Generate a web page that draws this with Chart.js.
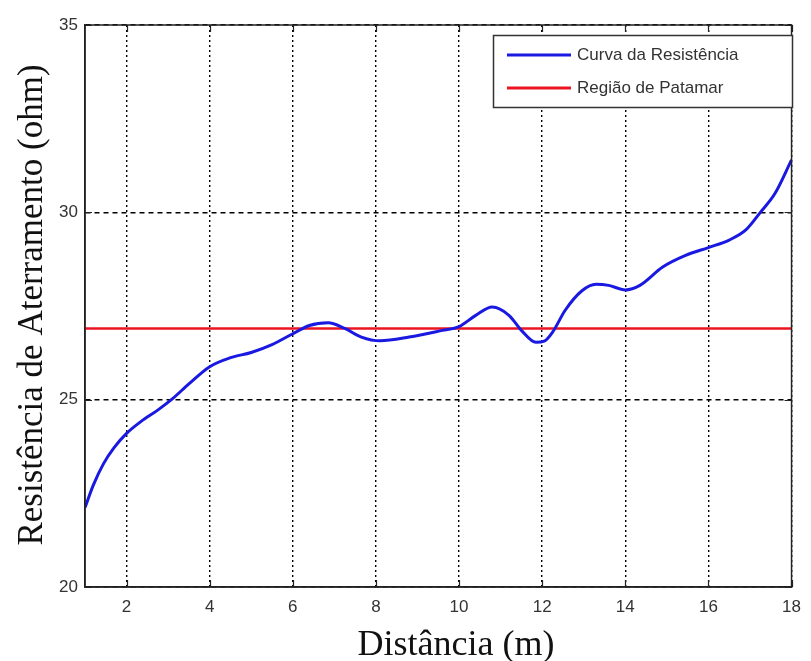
<!DOCTYPE html>
<html>
<head>
<meta charset="utf-8">
<script src="https://cdn.jsdelivr.net/npm/chart.js@4.4.1/dist/chart.umd.min.js"></script>
<style>
html,body{margin:0;padding:0;background:#fff;}
#wrap{width:811px;height:661px;}
</style>
</head>
<body>
<div id="wrap"><canvas id="c" width="811" height="661"></canvas></div>
<script>
const distances = [1.0, 1.2, 1.45, 1.7, 2.0, 2.35, 2.75, 3.1, 3.5, 4.0, 4.5, 5.0, 5.5, 6.0, 6.4, 6.85, 7.25, 7.65, 8.1, 8.8, 9.6, 10.0, 10.4, 10.8, 11.2, 11.5, 11.85, 12.05, 12.25, 12.55, 12.95, 13.3, 13.6, 14.0, 14.35, 14.9, 15.45, 16.0, 16.5, 16.9, 17.25, 17.6, 18.0];
const resistance = [22.12, 22.72, 23.3, 23.72, 24.1, 24.42, 24.72, 25.02, 25.42, 25.88, 26.12, 26.26, 26.47, 26.76, 26.98, 27.05, 26.9, 26.67, 26.57, 26.67, 26.85, 26.95, 27.25, 27.47, 27.25, 26.85, 26.53, 26.56, 26.8, 27.38, 27.9, 28.08, 28.05, 27.93, 28.05, 28.54, 28.85, 29.06, 29.26, 29.53, 30.0, 30.5, 31.4];
const plateauValue = 26.9;
const plateauRange = [1, 18];
const xTicks = [2, 4, 6, 8, 10, 12, 14, 16, 18];
const yTicks = [20, 25, 30, 35];
const seriesNames = ["Curva da Resistência", "Região de Patamar"];
const xTitle = "Distância (m)";
const yTitle = "Resistência de Aterramento (ohm)";

const blue = "rgb(25,25,225)";
const red = "rgb(235,20,35)";

const curve = distances.map((d, i) => ({x: d, y: resistance[i]}));
const plateau = plateauRange.map(d => ({x: d, y: plateauValue}));

const serif = '"Liberation Serif", "Times New Roman", serif';
const sans = '"Liberation Sans", Arial, sans-serif';

const boxLegend = {
  id: 'boxLegend',
  afterDatasetsDraw(chart) {
    const {ctx, chartArea: a} = chart;
    ctx.save();
    ctx.strokeStyle = '#222';
    ctx.lineWidth = 1.5;
    ctx.strokeRect(a.left, a.top, a.right - a.left, a.bottom - a.top);
    // inward tick marks
    ctx.lineWidth = 1.2;
    const xs = chart.scales.x, ys = chart.scales.y;
    xTicks.forEach(t => {
      const px = Math.round(xs.getPixelForValue(t)) + 0.5;
      ctx.beginPath(); ctx.moveTo(px, a.bottom); ctx.lineTo(px, a.bottom - 7);
      ctx.moveTo(px, a.top); ctx.lineTo(px, a.top + 7); ctx.stroke();
    });
    yTicks.forEach(t => {
      const py = Math.round(ys.getPixelForValue(t)) + 0.5;
      ctx.beginPath(); ctx.moveTo(a.left, py); ctx.lineTo(a.left + 7, py);
      ctx.moveTo(a.right, py); ctx.lineTo(a.right - 7, py); ctx.stroke();
    });
    // legend
    const lx = 493, ly = 35, lw = 299, lh = 72;
    ctx.fillStyle = '#fff';
    ctx.fillRect(lx, ly, lw, lh);
    ctx.strokeStyle = '#333';
    ctx.lineWidth = 1.5;
    ctx.strokeRect(lx + 0.5, ly + 0.5, lw, lh);
    ctx.font = '17px ' + sans;
    ctx.textBaseline = 'middle';
    chart.data.datasets.forEach((ds, i) => {
      const y = ly + 20 + i * 33;
      ctx.strokeStyle = ds.borderColor;
      ctx.lineWidth = 3;
      ctx.beginPath(); ctx.moveTo(507, y); ctx.lineTo(571, y); ctx.stroke();
      ctx.fillStyle = '#333';
      ctx.fillText(ds.label, 577, y);
    });
    // axis titles
    ctx.fillStyle = '#111';
    ctx.textBaseline = 'alphabetic';
    ctx.textAlign = 'center';
    ctx.font = '36px ' + serif;
    ctx.fillText(xTitle, 456, 655);
    ctx.translate(42, 305);
    ctx.rotate(-Math.PI / 2);
    ctx.font = '35px ' + serif;
    ctx.fillText(yTitle, 0, 0);
    ctx.restore();
  }
};

new Chart(document.getElementById('c'), {
  type: 'line',
  data: {
    datasets: [
      {label: seriesNames[0], data: curve, borderColor: blue, borderWidth: 3, pointRadius: 0, cubicInterpolationMode: 'monotone', fill: false},
      {label: seriesNames[1], data: plateau, borderColor: red, borderWidth: 2.5, pointRadius: 0, fill: false}
    ]
  },
  options: {
    responsive: false,
    animation: false,
    devicePixelRatio: 1,
    layout: {padding: {top: 25, right: 13, left: 0, bottom: 0}},
    plugins: {legend: {display: false}, tooltip: {enabled: false}},
    scales: {
      x: {
        type: 'linear', min: 1, max: 18,
        afterBuildTicks: s => { s.ticks = xTicks.map(v => ({value: v})); },
        afterFit: s => { s.height = 74; },
        grid: {color: '#000', lineWidth: 1.4, drawTicks: false},
        border: {display: true, color: '#222', width: 1.5, dash: [2, 3]},
        ticks: {color: '#333', padding: 10, font: {family: sans, size: 17}},
        title: {display: false}
      },
      y: {
        type: 'linear', min: 20, max: 35,
        afterBuildTicks: s => { s.ticks = yTicks.map(v => ({value: v})); },
        afterFit: s => { s.width = 85; },
        grid: {color: '#000', lineWidth: 1.4, drawTicks: false},
        border: {display: true, color: '#222', width: 1.5, dash: [5, 4]},
        ticks: {color: '#333', padding: 7, font: {family: sans, size: 17}},
        title: {display: false}
      }
    }
  },
  plugins: [boxLegend]
});
</script>
</body>
</html>
